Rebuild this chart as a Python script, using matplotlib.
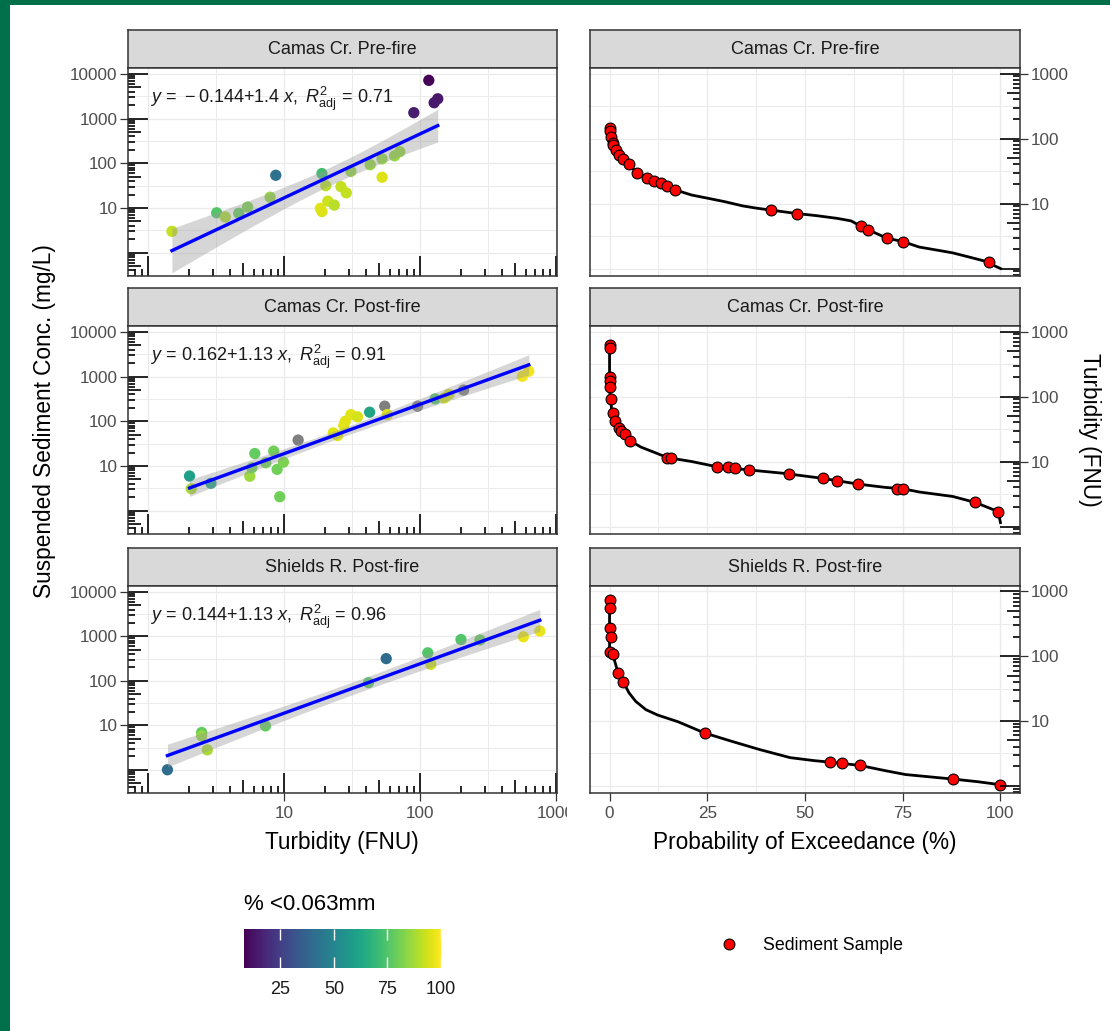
"""Turbidity vs SSC regressions (left) and turbidity duration curves (right) -> out.png."""

import numpy as np
import matplotlib
matplotlib.use("Agg")
import matplotlib.pyplot as plt
from matplotlib.transforms import blended_transform_factory, Bbox, TransformedBbox
from matplotlib.lines import Line2D
from matplotlib.patches import Rectangle
from matplotlib.colors import Normalize
from matplotlib.cm import ScalarMappable
from matplotlib.ticker import NullLocator

plt.rcParams["font.family"] = ["Liberation Sans", "DejaVu Sans"]
plt.rcParams["mathtext.fontset"] = "custom"
plt.rcParams["mathtext.rm"] = "Liberation Sans"
plt.rcParams["mathtext.it"] = "Liberation Sans:italic"
plt.rcParams["mathtext.bf"] = "Liberation Sans:bold"

# ---- data ----
panels = ["Camas Cr. Pre-fire", "Camas Cr. Post-fire", "Shields R. Post-fire"]
equations = [
    r"$y\,=\,-0.144{+}1.4\ x,\ R^{2}_{\mathrm{adj}}\,=\,0.71$",
    r"$y\,=\,0.162{+}1.13\ x,\ R^{2}_{\mathrm{adj}}\,=\,0.91$",
    r"$y\,=\,0.144{+}1.13\ x,\ R^{2}_{\mathrm{adj}}\,=\,0.96$",
]

# turbidity (FNU), SSC (mg/L), % finer than 0.063 mm
pre_turb = [1.5, 3.2, 3.7, 4.65, 5.4, 7.9, 8.7, 19, 20.3, 18.5, 19, 21, 23.4, 26.2, 28.7,
            31, 43, 52.6, 52.6, 65, 71, 90, 116, 127, 135]
pre_ssc = [3.0, 7.8, 6.3, 7.6, 10.5, 17.4, 54, 59, 31.6, 9.8, 8.3, 14.2, 11.6, 30, 21.8,
           66, 93, 126, 48.7, 147, 182, 1360, 7200, 2270, 2780]
pre_fine = [92, 75, 88, 78, 82, 85, 42, 72, 90, 96, 95, 93, 90, 92, 92,
            85, 85, 85, 95, 85, 85, 15, 9, 14, 14]

post_turb = [2.02, 2.08, 2.9, 5.6, 6.1, 5.8, 7.35, 8.4, 8.9, 9.9, 9.3, 12.7, 23, 24.8,
             28.2, 31, 34.7, 27.5, 42.6, 55, 57.3, 96, 129, 151, 163, 209, 565, 630]
post_ssc = [5.95, 3.1, 4.1, 5.9, 19, 9.1, 11.8, 21.5, 8.4, 12.2, 2.05, 38, 55, 48,
            100, 141, 126, 80, 160, 218, 141, 218, 318, 333, 400, 500, 1020, 1320]
post_fine = [60, 88, 60, 86, 78, 80, 80, 80, 80, 82, 80, np.nan, 96, 96,
             96, 96, 94, 96, 62, np.nan, 95, np.nan, 75, 93, 93, np.nan, 98, 98]

shi_turb = [1.39, 2.48, 2.48, 2.73, 7.3, 41.8, 56.4, 114, 120, 200, 276, 575, 760]
shi_ssc = [1.0, 6.9, 5.8, 2.8, 9.7, 91, 316, 427, 235, 850, 830, 980, 1320]
shi_fine = [40, 78, 85, 88, 78, 76, 40, 75, 93, 75, 78, 97, 97]

# duration curves: probability of exceedance (%), turbidity (FNU)
pre_curve_p = [0, 0.35, 0.8, 1.6, 2.5, 3.5, 5, 6.9, 9.5, 11.3, 13.2, 14.8, 16.8, 21, 25.3,
               29.7, 34, 37.5, 41.4, 48, 53, 58.3, 61.8, 64.2, 66.1, 70.9, 75, 79.2, 84.4,
               87.8, 92.2, 97.1, 98.5, 100]
pre_curve_t = [150, 107, 85, 67, 56, 49, 40, 30, 25, 22, 20.6, 18.6, 16.2, 13.5, 12,
               10.6, 9.2, 8.5, 7.9, 7.0, 6.5, 5.9, 5.4, 4.5, 3.96, 2.94, 2.6, 2.14, 1.89,
               1.74, 1.49, 1.25, 1.1, 1.0]
pre_samp_p = [0, 0, 0.35, 0.8, 1.0, 1.6, 2.5, 3.5, 5, 6.9, 9.5, 11.3, 13.2, 14.8, 16.8,
              41.4, 48, 64.2, 66.1, 70.9, 75, 97.1]
pre_samp_t = [145, 132, 107, 85, 80, 67, 56, 49, 40, 30, 25, 22, 20.6, 18.6, 16.2,
              7.9, 7.0, 4.5, 3.96, 2.94, 2.6, 1.25]

post_curve_p = [0, 0, 0.2, 0.6, 1.0, 2.0, 3.5, 5.2, 8, 11.5, 14.8, 21, 27.5, 35.8, 44.4,
                54.6, 63.5, 70.5, 75.1, 79.2, 87.8, 93.5, 99.4, 100]
post_curve_t = [620, 140, 93, 60, 45, 35, 27, 21, 16.7, 13.8, 11.5, 10, 8.3, 7.4, 6.6,
                5.5, 4.5, 4.0, 3.8, 3.4, 2.9, 2.35, 1.7, 1.15]
post_samp_p = [0, 0, 0, 0, 0, 0.35, 0.8, 1.3, 2.3, 2.95, 3.9, 5.2, 14.8, 15.8, 27.5,
               30.3, 32.1, 35.8, 45.9, 54.6, 58.2, 63.5, 73.5, 75.1, 93.5, 99.4]
post_samp_t = [620, 550, 200, 173, 139, 93, 55, 42, 33, 30, 26.5, 21, 11.5, 11.5, 8.3,
               8.3, 7.9, 7.4, 6.4, 5.5, 5.0, 4.5, 3.8, 3.8, 2.35, 1.7]

shi_curve_p = [0, 0, 0.8, 2.2, 3.5, 5, 6.7, 9.3, 12.3, 17.5, 24.3, 31.4, 38.4, 46.2, 52.3,
               56.4, 64, 70.5, 75.7, 87.8, 94, 100]
shi_curve_t = [730, 117, 107, 55, 40, 27, 20, 14.9, 12.3, 9.7, 6.5, 4.8, 3.6, 2.7, 2.43,
               2.3, 2.05, 1.7, 1.48, 1.26, 1.15, 1.03]
shi_samp_p = [0, 0, 0, 0.35, 0, 0.8, 2.2, 3.5, 24.3, 56.4, 59.4, 64, 87.8, 100]
shi_samp_t = [730, 560, 268, 198, 117, 107, 55, 40, 6.5, 2.3, 2.2, 2.05, 1.26, 1.03]

scatter_sets = [(pre_turb, pre_ssc, pre_fine), (post_turb, post_ssc, post_fine),
                (shi_turb, shi_ssc, shi_fine)]
curve_sets = [(pre_curve_p, pre_curve_t, pre_samp_p, pre_samp_t),
              (post_curve_p, post_curve_t, post_samp_p, post_samp_t),
              (shi_curve_p, shi_curve_t, shi_samp_p, shi_samp_t)]

# ---- layout (pixel boxes) ----
W, H = 1110, 1031
LEFT_X = (128, 557)
RIGHT_X = (590, 1020)
ROWS = [((30, 68), (68, 276)), ((288, 326), (326, 534)), ((548, 586), (586, 793))]

BORDER = "#333333"
GRID = "#EBEBEB"
TICKTXT = "#4D4D4D"
TICKSIZE = 12.3
TITLESIZE = 16.3


def box(x0, y0, x1, y1):
    return [x0 / W, 1 - y1 / H, (x1 - x0) / W, (y1 - y0) / H]


def t975(df):
    z = 1.959964
    return z + (z**3 + z) / (4 * df) + (5 * z**5 + 16 * z**3 + 3 * z) / (96 * df**2)


def lm_band(x, y):
    lx, ly = np.log10(x), np.log10(y)
    n = len(lx)
    b1, b0 = np.polyfit(lx, ly, 1)
    xs = np.linspace(lx.min(), lx.max(), 80)
    fit = b0 + b1 * xs
    s = np.sqrt(np.sum((ly - (b0 + b1 * lx)) ** 2) / (n - 2))
    se = s * np.sqrt(1 / n + (xs - lx.mean()) ** 2 / np.sum((lx - lx.mean()) ** 2))
    t = t975(n - 2)
    return 10**xs, 10**fit, 10 ** (fit - t * se), 10 ** (fit + t * se)


def logticks(ax, side, k0, k1, span_px):
    """ggplot-style annotation_logticks, lengths in pixels."""
    if side in ("l", "r"):
        tr = blended_transform_factory(ax.transAxes, ax.transData)
    else:
        tr = blended_transform_factory(ax.transData, ax.transAxes)
    for k in range(k0, k1 + 1):
        for m in range(1, 10):
            v = m * 10.0**k
            L = (20 if m == 1 else 13 if m == 5 else 7) / span_px
            if side == "l":
                xy = ([0, L], [v, v])
            elif side == "r":
                xy = ([1 - L, 1], [v, v])
            else:
                xy = ([v, v], [0, L])
            ax.plot(*xy, transform=tr, color="black", lw=1.2, zorder=3,
                    solid_capstyle="butt")


def strip(fig, xs, ys, label):
    s = fig.add_axes(box(xs[0], ys[0], xs[1], ys[1]))
    s.set_facecolor("#D9D9D9")
    s.set_xticks([]); s.set_yticks([])
    for sp in s.spines.values():
        sp.set_color(BORDER); sp.set_linewidth(1.1)
    s.text(0.5, 0.5, label, ha="center", va="center", fontsize=13, color="#1A1A1A",
           transform=s.transAxes)


def style(ax):
    for sp in ax.spines.values():
        sp.set_color(BORDER); sp.set_linewidth(1.1); sp.set_zorder(5)
    ax.tick_params(length=5.5, width=0.9, color=BORDER, labelsize=TICKSIZE,
                   labelcolor=TICKTXT, pad=2)


def main():
    fig = plt.figure(figsize=(W / 100, H / 100), dpi=100)
    cmap = plt.get_cmap("viridis").with_extremes(bad="#7F7F7F")
    norm = Normalize(8, 100)

    for i, ((sy, py), name) in enumerate(zip(ROWS, panels)):
        last = i == len(panels) - 1

        # ---- left: SSC vs turbidity ----
        strip(fig, LEFT_X, sy, name)
        ax = fig.add_axes(box(LEFT_X[0], py[0], LEFT_X[1], py[1]))
        ax.set_xscale("log"); ax.set_yscale("log")
        ax.set_xlim(0.713, 1016); ax.set_ylim(0.30, 13600)
        for v in [1, 10, 100, 1000, 10000]:
            ax.axhline(v, color=GRID, lw=1.0, zorder=0)
        for v in [3.162, 31.62, 316.2, 3162]:
            ax.axhline(v, color=GRID, lw=0.7, zorder=0)
        for v in [1, 10, 100, 1000]:
            ax.axvline(v, color=GRID, lw=1.0, zorder=0)
        for v in [3.162, 31.62, 316.2]:
            ax.axvline(v, color=GRID, lw=0.7, zorder=0)

        x, y, c = (np.asarray(a, float) for a in scatter_sets[i])
        ax.scatter(x, y, c=c, cmap=cmap, norm=norm, s=66, linewidths=0,
                   plotnonfinite=True, zorder=2)
        xs, fit, lo, hi = lm_band(x, y)
        ax.fill_between(xs, lo, hi, color="#999999", alpha=0.4, lw=0, zorder=2.5)
        ax.plot(xs, fit, color="blue", lw=2.4, zorder=2.6)
        ax.text(0.051, 0.83, equations[i], transform=ax.transAxes, fontsize=13,
                color="#1A1A1A", va="baseline", ha="left", zorder=4)

        logticks(ax, "l", -1, 4, LEFT_X[1] - LEFT_X[0])
        logticks(ax, "b", -1, 3, py[1] - py[0])
        ax.set_yticks([10, 100, 1000, 10000], ["10", "100", "1000", "10000"])
        ax.yaxis.set_minor_locator(NullLocator())
        ax.xaxis.set_minor_locator(NullLocator())
        style(ax)
        if last:
            ax.set_xticks([10, 100, 1000], ["10", "100", "1000"])
            ax.tick_params(axis="x", pad=4)
            clip = TransformedBbox(Bbox.from_extents(0, 0, 567 / W, 1), fig.transFigure)
            for lbl in ax.get_xticklabels():
                lbl.set_clip_box(clip); lbl.set_clip_on(True)
        else:
            ax.set_xticks([])

        # ---- right: duration curve ----
        strip(fig, RIGHT_X, sy, name)
        ax2 = fig.add_axes(box(RIGHT_X[0], py[0], RIGHT_X[1], py[1]))
        ax2.set_yscale("log")
        ax2.set_xlim(-5, 105); ax2.set_ylim(0.767, 1216)
        for v in [1, 10, 100, 1000]:
            ax2.axhline(v, color=GRID, lw=1.0, zorder=0)
        for v in [3.162, 31.62, 316.2]:
            ax2.axhline(v, color=GRID, lw=0.7, zorder=0)
        for v in [0, 25, 50, 75, 100]:
            ax2.axvline(v, color=GRID, lw=1.0, zorder=0)
        for v in [12.5, 37.5, 62.5, 87.5]:
            ax2.axvline(v, color=GRID, lw=0.7, zorder=0)

        cp, ct, sp_, st = curve_sets[i]
        ax2.plot(cp, ct, color="black", lw=2.0, zorder=2)
        ax2.plot(sp_, st, ls="none", marker="o", ms=7.8, mfc="red", mec="black",
                 mew=0.8, zorder=3)

        logticks(ax2, "r", -1, 3, RIGHT_X[1] - RIGHT_X[0])
        ax2.yaxis.tick_right()
        ax2.set_yticks([10, 100, 1000], ["10", "100", "1000"])
        ax2.yaxis.set_minor_locator(NullLocator())
        style(ax2)
        if last:
            ax2.set_xticks([0, 25, 50, 75, 100], ["0", "25", "50", "75", "100"])
            ax2.tick_params(axis="x", pad=4)
        else:
            ax2.set_xticks([])

    # axis titles
    fig.text(45 / W, 1 - 421 / H, "Suspended Sediment Conc. (mg/L)", rotation=90,
             ha="center", va="center", fontsize=TITLESIZE)
    fig.text(1090 / W, 1 - 430 / H, "Turbidity (FNU)", rotation=-90,
             ha="center", va="center", fontsize=TITLESIZE)
    fig.text(342 / W, 1 - 842 / H, "Turbidity (FNU)", ha="center", va="center",
             fontsize=TITLESIZE)
    fig.text(805 / W, 1 - 842 / H, "Probability of Exceedance (%)", ha="center",
             va="center", fontsize=TITLESIZE)

    # colour bar legend
    fig.text(244 / W, 1 - 905 / H, "% <0.063mm", ha="left", va="center", fontsize=16)
    cax = fig.add_axes(box(244, 929, 441, 968))
    cb = fig.colorbar(ScalarMappable(norm=norm, cmap="viridis"), cax=cax,
                      orientation="horizontal", ticks=[25, 50, 75, 100])
    cb.outline.set_visible(False)
    cax.tick_params(axis="x", direction="in", length=8, width=1, colors="white",
                    labelcolor="#1A1A1A", labelsize=13, top=True, pad=9)

    # point legend
    fig.legend(handles=[Line2D([], [], ls="none", marker="o", ms=7.8, mfc="red",
                               mec="black", mew=0.8)],
               labels=["Sediment Sample"], loc="center left",
               bbox_to_anchor=(719 / W, 1 - 946 / H), frameon=False, fontsize=12.8,
               handlelength=1.15, handletextpad=1.3, borderpad=0, borderaxespad=0)

    # green frame
    fig.add_artist(Rectangle((0, 1 - 5 / H), 1, 5 / H, transform=fig.transFigure,
                             color="#00704A", lw=0))
    fig.add_artist(Rectangle((0, 0), 10 / W, 1, transform=fig.transFigure,
                             color="#00704A", lw=0))

    fig.savefig("out.png", dpi=100)


if __name__ == "__main__":
    main()
